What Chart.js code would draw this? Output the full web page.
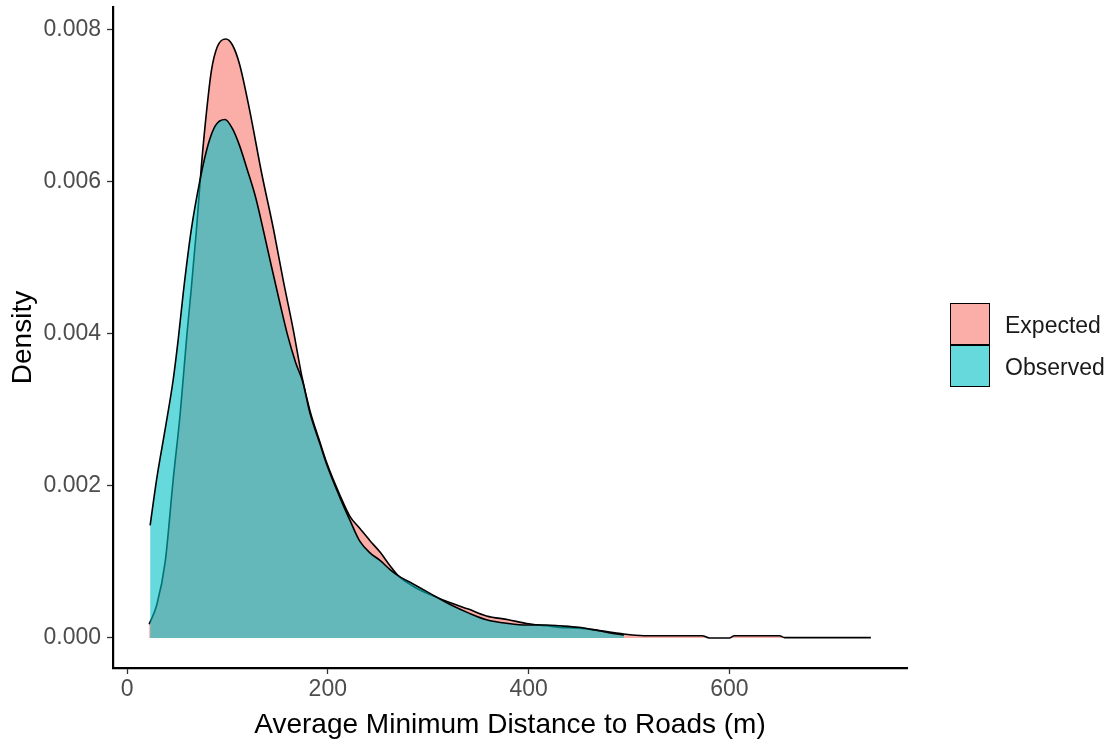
<!DOCTYPE html>
<html>
<head>
<meta charset="utf-8">
<script src="https://cdn.jsdelivr.net/npm/chart.js"></script>
<style>
  body { margin: 0; background: #fff; }
  #wrap { position: relative; width: 1113px; height: 746px; }
  .key { position: absolute; left: 950px; width: 38px; height: 40px; border: 1.5px solid #000; }
  .lab { position: absolute; left: 1005px; font: 23px "Liberation Sans", Arial, sans-serif; color: #1a1a1a; }
</style>
</head>
<body>
<div id="wrap">
  <canvas id="c" width="1113" height="746"></canvas>
  <div class="key" style="top:303px;background:rgba(248,118,109,0.6)"></div>
  <div class="key" style="top:345px;background:rgba(0,191,196,0.6)"></div>
  <div class="lab" style="top:312px">Expected</div>
  <div class="lab" style="top:354px">Observed</div>
</div>
<script>
// density curves
const expectedX = [22, 29.5, 38, 46, 53, 59.5, 64, 69, 74, 79, 84, 90, 98.5, 105, 112, 122, 134, 146, 155.5, 165.5, 174, 182, 192, 199, 212, 222, 232, 242, 252, 262, 270, 285, 300, 325, 340, 358, 380, 398, 418, 431, 450, 464, 490, 515, 573, 580, 600, 605, 650, 655, 741];
const expectedY = [0.00018, 0.00043, 0.00100, 0.00209, 0.00296, 0.00397, 0.00460, 0.00535, 0.00620, 0.00690, 0.00746, 0.00778, 0.00788, 0.00780, 0.00755, 0.00695, 0.00612, 0.00537, 0.00471, 0.00406, 0.00345, 0.00300, 0.00258, 0.00230, 0.00188, 0.00160, 0.00144, 0.00128, 0.00113, 0.00095, 0.00082, 0.00068, 0.00058, 0.00045, 0.00038, 0.00029, 0.00024, 0.00019, 0.00016, 0.00014, 0.00013, 0.00011, 0.00006, 0.00003, 0.00003, 0.0, 0.0, 0.00003, 0.00003, 0.000005, 0.000005];

const observedX = [23, 29.5, 38, 46, 51, 56, 64, 72.6, 81, 88, 97.5, 105, 112, 120, 128, 136, 144, 152, 160, 168, 175, 182, 192, 199, 212, 222, 232, 242, 252, 262, 270, 285, 300, 325, 340, 358, 380, 398, 418, 431, 450, 464, 480, 495];
const observedY = [0.00148, 0.00209, 0.00275, 0.00340, 0.00393, 0.00454, 0.00537, 0.00602, 0.00650, 0.00674, 0.00682, 0.00670, 0.00648, 0.00615, 0.00580, 0.00535, 0.00488, 0.00442, 0.00398, 0.00362, 0.00337, 0.00297, 0.00256, 0.00228, 0.00185, 0.00155, 0.00127, 0.00112, 0.00102, 0.00090, 0.00082, 0.00071, 0.00060, 0.00042, 0.00033, 0.00024, 0.00019, 0.00017, 0.00017, 0.00016, 0.00014, 0.00011, 0.00007, 0.00004];

const xTicks = [0, 200, 400, 600];
const yTicks = [0, 0.002, 0.004, 0.006, 0.008];

const pts = (xs, ys) => xs.map((x, i) => ({ x, y: ys[i] }));
const FONT = '"Liberation Sans", Arial, sans-serif';

new Chart(document.getElementById('c'), {
  type: 'line',
  data: {
    datasets: [
      {
        label: 'Expected',
        data: pts(expectedX, expectedY),
        backgroundColor: 'rgba(248,118,109,0.6)',
        borderColor: '#000',
        borderWidth: 1.6,
        fill: 'origin',
        pointRadius: 0,
        cubicInterpolationMode: 'monotone',
        order: 2,
      },
      {
        label: 'Observed',
        data: pts(observedX, observedY),
        backgroundColor: 'rgba(0,191,196,0.6)',
        borderColor: '#000',
        borderWidth: 1.6,
        fill: 'origin',
        pointRadius: 0,
        cubicInterpolationMode: 'monotone',
        order: 1,
      },
    ],
  },
  options: {
    responsive: false,
    animation: false,
    layout: { padding: { left: 0, top: 7, right: 206, bottom: 0 } },
    plugins: { legend: { display: false }, tooltip: { enabled: false } },
    scales: {
      x: {
        type: 'linear',
        min: -14,
        max: 777,
        afterBuildTicks: (s) => { s.ticks = xTicks.map(v => ({ value: v })); },
        afterFit: (s) => { s.height = 78; s.paddingLeft = 0; s.paddingRight = 0; },
        grid: { drawOnChartArea: false, tickLength: 6, tickColor: '#333', tickWidth: 1.3 },
        border: { color: '#000', width: 2.2 },
        ticks: { color: '#4d4d4d', font: { family: FONT, size: 23 }, padding: 2, maxRotation: 0 },
        title: { display: true, text: 'Average Minimum Distance to Roads (m)', color: '#000', font: { family: FONT, size: 28 }, padding: { top: 0, bottom: 4 } },
      },
      y: {
        min: -0.000395,
        max: 0.0083,
        afterBuildTicks: (s) => { s.ticks = yTicks.map(v => ({ value: v })); },
        afterFit: (s) => { s.width = 113; s.paddingTop = 0; s.paddingBottom = 0; },
        grid: { drawOnChartArea: false, tickLength: 6, tickColor: '#333', tickWidth: 1.3 },
        border: { color: '#000', width: 2.2 },
        ticks: { color: '#4d4d4d', font: { family: FONT, size: 23 }, padding: 6, callback: (v) => v.toFixed(3) },
        title: { display: true, text: 'Density', color: '#000', font: { family: FONT, size: 28 }, padding: { top: 6, bottom: 0 } },
      },
    },
  },
});
</script>
</body>
</html>
